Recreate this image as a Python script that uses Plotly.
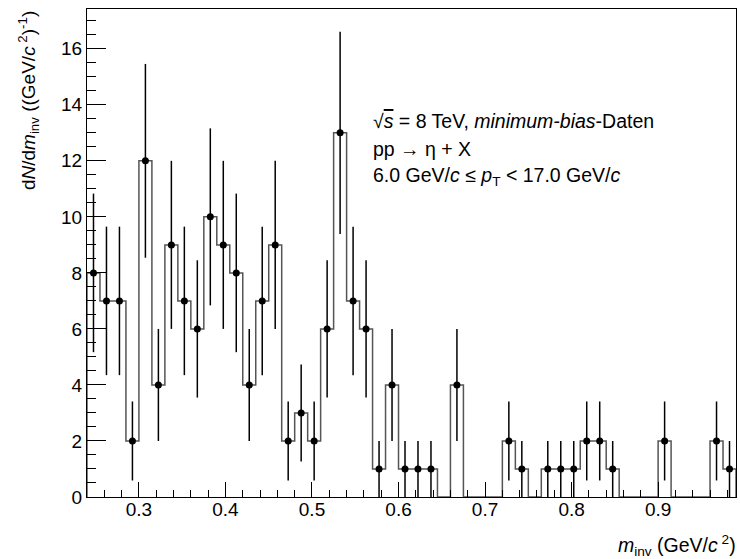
import plotly.graph_objects as go

# Histogram: invariant mass, bins of 0.015 GeV/c^2 from 0.24 to 0.99
bin_edges = [round(0.24 + 0.015 * i, 3) for i in range(51)]
counts = [8, 7, 7, 2, 12, 4, 9, 7, 6, 10,
          9, 8, 4, 7, 9, 2, 3, 2, 6, 13,
          7, 6, 1, 4, 1, 1, 1, 0, 4, 0,
          0, 0, 2, 1, 0, 1, 1, 1, 2, 2,
          1, 0, 0, 0, 2, 0, 0, 0, 2, 1]
errors = [2.83, 2.65, 2.65, 1.41, 3.46, 2.00, 3.00, 2.65, 2.45, 3.16,
          3.00, 2.83, 2.00, 2.65, 3.00, 1.41, 1.73, 1.41, 2.45, 3.61,
          2.65, 2.45, 1.00, 2.00, 1.00, 1.00, 1.00, 0.00, 2.00, 0.00,
          0.00, 0.00, 1.41, 1.00, 0.00, 1.00, 1.00, 1.00, 1.41, 1.41,
          1.00, 0.00, 0.00, 0.00, 1.41, 0.00, 0.00, 0.00, 1.41, 1.00]

x_range = [0.24, 0.99]
y_range = [0, 17.42]
x_ticks = [0.3, 0.4, 0.5, 0.6, 0.7, 0.8, 0.9]
x_ticklabels = ["0.3", "0.4", "0.5", "0.6", "0.7", "0.8", "0.9"]
y_ticks = [0, 2, 4, 6, 8, 10, 12, 14, 16]
y_ticklabels = ["0", "2", "4", "6", "8", "10", "12", "14", "16"]

labels = [
    "√<span style='text-decoration:overline'><i>s</i></span> = 8 TeV, <i>minimum-bias</i>-Daten",
    "pp → η + X",
    "6.0 GeV/<i>c</i> ≤ <i>p</i><sub>T</sub> &lt; 17.0 GeV/<i>c</i>",
]
label_y = [13.43, 12.43, 11.43]

FONT = "Liberation Sans, Arial, Helvetica, sans-serif"

# step outline
xs = [bin_edges[0]] + bin_edges + [bin_edges[-1]]
ys = [0] + counts + [counts[-1], 0]

centers = [(bin_edges[i] + bin_edges[i + 1]) / 2 for i in range(len(counts))]
pcx = [c for c, n in zip(centers, counts) if n > 0]
pcy = [n for n in counts if n > 0]
pce = [e for e, n in zip(errors, counts) if n > 0]

fig = go.Figure()
fig.add_trace(go.Scatter(x=xs, y=ys, mode="lines", line_shape="hv",
                         line=dict(color="#555555", width=1.5),
                         hoverinfo="skip", showlegend=False))
fig.add_trace(go.Scatter(x=pcx, y=pcy, mode="markers",
                         marker=dict(color="black", size=7, symbol="circle"),
                         error_y=dict(type="data", array=pce, visible=True,
                                      color="black", thickness=1.5, width=0),
                         showlegend=False))

for t, yy in zip(labels, label_y):
    fig.add_annotation(x=0.568, y=yy, xref="x", yref="y", text=t,
                       showarrow=False, xanchor="left", yanchor="middle",
                       font=dict(family=FONT, size=19.5, color="black"))

# axis titles
fig.add_annotation(x=1.003, y=-0.067, xref="paper", yref="paper",
                   text="<i>m</i><sub>inv</sub> (GeV/<i>c</i><sup> 2</sup>)",
                   showarrow=False, xanchor="right", yanchor="top",
                   font=dict(family=FONT, size=19.5, color="black"))
fig.add_annotation(x=-0.09, y=1.0, xref="paper", yref="paper",
                   text="d<i>N</i>/d<i>m</i><sub>inv</sub> ((GeV/<i>c</i><sup> 2</sup>)<sup>-1</sup>)",
                   showarrow=False, textangle=-90, xanchor="center", yanchor="top",
                   font=dict(family=FONT, size=19, color="black"))

fig.update_layout(
    width=740, height=559,
    margin=dict(l=87, r=4, t=9, b=62, autoexpand=False),
    paper_bgcolor="white", plot_bgcolor="white",
    font=dict(family=FONT, size=19, color="black"),
    xaxis=dict(range=x_range, tickvals=x_ticks, ticktext=x_ticklabels,
               ticks="inside", ticklen=15, tickwidth=1, tickcolor="black",
               minor=dict(dtick=0.02, tick0=0.24, ticks="inside", ticklen=7,
                          tickcolor="black", tickwidth=1),
               showline=True, linecolor="black", linewidth=1, mirror=True,
               showgrid=False, zeroline=False, ticklabelstandoff=-5,
               tickfont=dict(family=FONT, size=19, color="black")),
    yaxis=dict(range=y_range, tickvals=y_ticks, ticktext=y_ticklabels,
               ticks="inside", ticklen=19, tickwidth=1, tickcolor="black",
               minor=dict(dtick=0.5, tick0=0, ticks="inside", ticklen=9,
                          tickcolor="black", tickwidth=1),
               showline=True, linecolor="black", linewidth=1, mirror=True,
               showgrid=False, zeroline=False,
               tickfont=dict(family=FONT, size=19, color="black")),
)

fig.write_html("out.html", config={"displayModeBar": False},
               post_script="document.body.style.margin='0';document.body.style.padding='0';document.body.style.overflow='hidden';")
